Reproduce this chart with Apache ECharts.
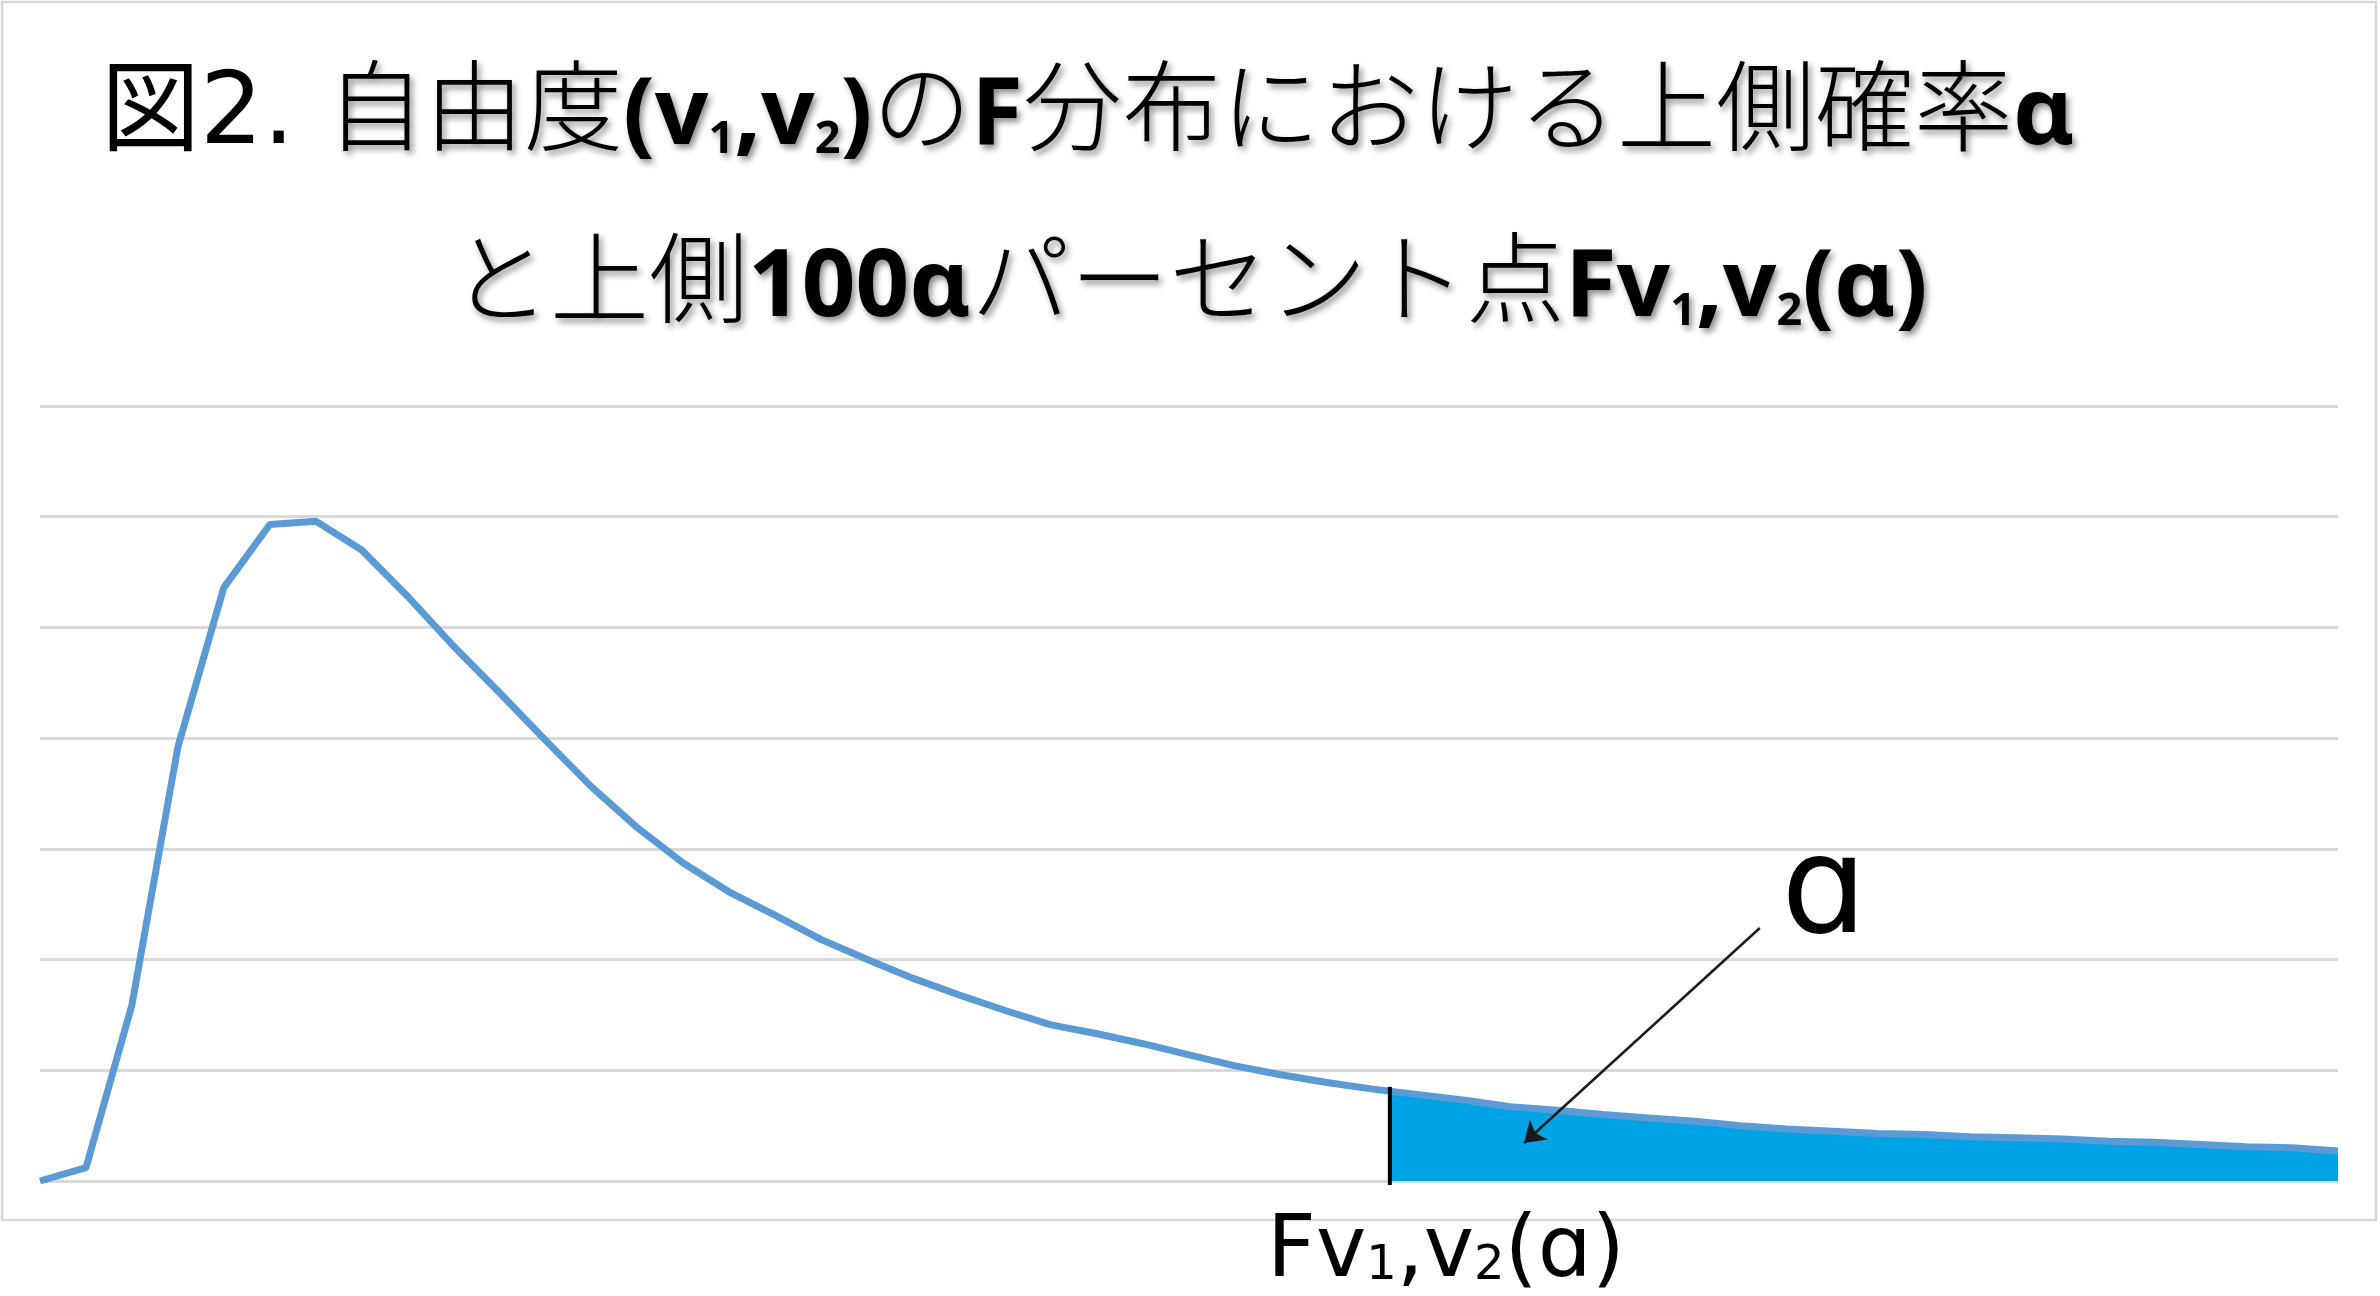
<!DOCTYPE html>
<html>
<head>
<meta charset="utf-8">
<script src="https://cdn.jsdelivr.net/npm/echarts@6/dist/echarts.min.js"></script>
<style>
html,body{margin:0;padding:0;background:#ffffff;}
#chart{width:2380px;height:1296px;}
</style>
</head>
<body>
<div id="chart"></div>
<script>
// x positions of the plotted points (F value)
const xValues = [0.0,0.1,0.2,0.3,0.4,0.5,0.6,0.7,0.8,0.9,
  1.0,1.1,1.2,1.3,1.4,1.5,1.6,1.7,1.8,1.9,
  2.0,2.1,2.2,2.3,2.4,2.5,2.6,2.7,2.8,2.9,
  3.0,3.1,3.2,3.3,3.4,3.5,3.6,3.7,3.8,3.9,
  4.0,4.1,4.2,4.3,4.4,4.5,4.6,4.7,4.8,4.9,5.0];
// density values
const density = [0.000,0.012,0.159,0.392,0.536,0.593,0.596,0.570,0.528,0.483,
  0.441,0.398,0.356,0.319,0.287,0.261,0.240,0.218,0.200,0.183,
  0.168,0.154,0.141,0.133,0.124,0.114,0.104,0.096,0.089,0.083,
  0.078,0.073,0.067,0.064,0.060,0.057,0.054,0.050,0.047,0.045,
  0.043,0.042,0.040,0.039,0.038,0.036,0.035,0.033,0.031,0.030,0.027];
// gridline values (no labels shown)
const yTicks = [0,0.1,0.2,0.3,0.4,0.5,0.6,0.7];
// upper 100α percent point and shading
const criticalX = 2.937;
const criticalLineTop = 0.085;
const criticalLineBottom = -0.0036;
const shadeStartValue = 0.082;
// arrow pointing to the shaded area
const arrowFrom = [3.742, 0.2285];
const arrowTo = [3.229, 0.0343];

const titleLine1 = '{n|図2. }{c|自由度}{b|(v}{s|1}{b|,v}{s|2}{b|)}{c|の}{b|F}{c|分布における上側確率}{b|α}';
const titleLine2 = '{c|と上側}{b|100α}{c|パーセント点}{b|Fv}{s|1}{b|,v}{s|2}{b|(α)}';
const alphaText = 'ɑ';
const pointLabel = '{m|Fv}{u|1}{m|,v}{u|2}{m|(ɑ)}';

const FONT = '"DejaVu Sans", "Noto Sans CJK JP", sans-serif';
const BFONT = '"Noto Sans", "Noto Sans CJK JP", sans-serif';
const shadow = {textShadowColor:'rgba(0,0,0,0.45)', textShadowBlur:6, textShadowOffsetX:3, textShadowOffsetY:4};
const titleRich = {
  n: {fontFamily: FONT, fontSize: 99, color: '#000', fontWeight: 'normal'},
  c: Object.assign({fontFamily: FONT, fontSize: 99, color: '#000', fontWeight: 300}, shadow),
  b: Object.assign({fontFamily: BFONT, fontSize: 94, color: '#000', fontWeight: 'bold'}, shadow),
  s: Object.assign({fontFamily: BFONT, fontSize: 45, color: '#000', fontWeight: 'bold', verticalAlign: 'bottom', padding: [0,0,4,0]}, shadow)
};

const mainData = density.map((v, i) => [xValues[i], v]);
const shadeData = [[criticalX, shadeStartValue]].concat(mainData.filter(p => p[0] > criticalX));

const chart = echarts.init(document.getElementById('chart'), null, {renderer: 'canvas'});
chart.setOption({
  animation: false,
  backgroundColor: '#ffffff',
  title: [
    {text: titleLine1, left: 96, top: 63, textStyle: {rich: titleRich}},
    {text: titleLine2, left: 446, top: 235, textStyle: {rich: titleRich}}
  ],
  grid: {left: 40, right: 42, top: 406, bottom: 115, containLabel: false},
  xAxis: {
    type: 'value', min: xValues[0], max: xValues[xValues.length - 1],
    axisLine: {show: false}, axisTick: {show: false}, axisLabel: {show: false}, splitLine: {show: false}
  },
  yAxis: {
    type: 'value', min: yTicks[0], max: yTicks[yTicks.length - 1], interval: 0.1,
    axisLine: {show: false}, axisTick: {show: false}, axisLabel: {show: false},
    splitLine: {show: true, lineStyle: {color: '#d9d9d9', width: 3}}
  },
  series: [
    {
      type: 'line', data: shadeData, symbol: 'none', z: 1,
      lineStyle: {width: 0, opacity: 0},
      areaStyle: {color: '#00a3e5', opacity: 1}
    },
    {
      type: 'line', data: mainData, symbol: 'none', z: 3, smooth: false,
      lineStyle: {color: '#5b9bd5', width: 7}
    },
    {
      type: 'line', data: [[criticalX, criticalLineBottom], [criticalX, criticalLineTop]],
      symbol: 'none', z: 4, clip: false,
      lineStyle: {color: '#000000', width: 4}
    },
    {
      type: 'lines', coordinateSystem: 'cartesian2d', z: 5,
      data: [{coords: [arrowFrom, arrowTo]}],
      symbol: ['none', 'arrow'], symbolSize: 20,
      lineStyle: {color: '#1a1a1a', width: 2.5, opacity: 1, curveness: 0}
    }
  ],
  graphic: [
    {type: 'rect', z: -10, shape: {x: 2, y: 2, width: 2374, height: 1218},
     style: {fill: 'none', stroke: '#d9d9d9', lineWidth: 2.5}},
    {type: 'text', z: 10, x: 1824, y: 897,
     style: {text: alphaText, fontSize: 135, fontFamily: FONT, fill: '#000', align: 'center', verticalAlign: 'middle'}},
    {type: 'text', z: 10, x: 1267, y: 1211,
     style: {text: pointLabel, align: 'left', verticalAlign: 'top',
       rich: {
         m: {fontSize: 85, fontFamily: FONT, fill: '#000', color: '#000'},
         u: {fontSize: 48, fontFamily: FONT, fill: '#000', color: '#000', verticalAlign: 'bottom', padding: [0,0,5,0]}
       }}}
  ]
});
</script>
</body>
</html>
